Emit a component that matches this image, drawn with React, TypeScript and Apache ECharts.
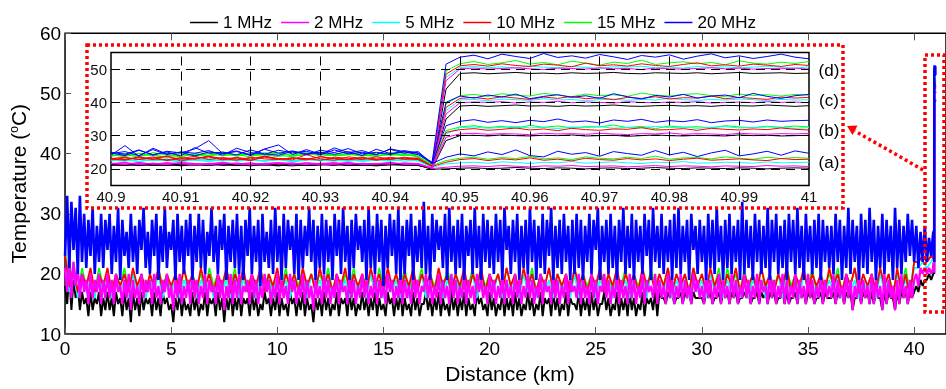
import React, { useEffect, useRef } from "react";
import * as echarts from "echarts";

// ---------- Legend / series names ----------
const names = ["1 MHz", "2 MHz", "5 MHz", "10 MHz", "15 MHz", "20 MHz"];
const colors: Record<string, string> = {
  "1 MHz": "#000000",
  "2 MHz": "#ff00ff",
  "5 MHz": "#00ffff",
  "10 MHz": "#ff0000",
  "15 MHz": "#00ff00",
  "20 MHz": "#0000ff",
};

// ---------- Main panel (0 - 40.9 km, step 0.1 km) ----------
const mainBlue = [
  23,33,21,32,24,31,20,33,22,30,21,29,23,31,20,28,22,30,21,29,
  24,30,20,28,22,31,19,29,23,27,21,30,22,28,20,29,24,31,21,27,
  20,29,23,30,19,28,22,31,21,27,24,29,19,30,22,28,20,29,23,30,
  19,28,22,30,21,29,20,27,23,31,22,28,20,29,24,30,19,28,22,29,
  21,30,20,28,19,29,23,31,20,28,22,29,18,30,22,27,21,29,20,31,
  22,28,19,30,21,29,24,28,20,30,19,29,21,28,23,31,22,29,19,28,
  21,30,20,29,22,28,19,30,23,29,20,31,22,28,19,29,21,30,24,28,
  22,29,19,31,21,28,20,30,22,29,18,28,21,30,23,29,20,31,19,28,
  20,29,23,30,19,28,22,29,21,32,20,28,19,30,22,29,24,28,21,30,
  19,31,22,28,20,29,21,30,19,28,23,29,20,31,21,28,19,30,22,29,
  21,28,20,30,22,29,19,31,24,28,20,29,22,30,19,28,21,29,20,31,
  22,29,19,28,21,30,20,29,23,31,19,28,21,29,20,30,22,28,19,29,
  20,30,21,29,19,28,22,30,20,29,24,31,19,28,22,29,20,30,21,28,
  19,29,22,31,20,28,21,30,19,29,22,28,20,30,23,29,19,31,22,28,
  21,30,20,28,22,29,19,30,21,31,20,28,22,29,19,30,24,28,20,29,
  22,28,19,30,21,29,20,31,22,28,19,29,21,30,20,28,22,29,19,32,
  20,29,21,28,19,30,22,29,20,28,21,31,19,29,22,30,20,28,21,29,
  19,30,22,29,20,31,21,28,19,30,22,28,20,29,21,30,19,29,22,28,
  21,28,20,30,22,29,19,28,21,31,20,29,22,28,19,30,21,29,20,31,
  22,29,19,28,21,30,20,29,22,28,19,31,21,29,20,28,22,30,23,29,
  22,28,21,27,22,28,22,26,23,27,
];
const mainMagenta = [
  21,17,23,16,22,18,21,16,20,17,19,15,20,16,19,17,20,15,19,16,
  20,16,19,15,20,17,18,15,19,16,20,14,19,16,18,15,20,16,19,17,
  19,15,20,16,18,15,19,17,20,16,18,14,19,16,20,15,18,16,19,15,
  20,16,19,15,18,16,20,15,19,17,18,15,20,16,19,14,18,16,20,15,
  19,16,20,15,18,17,19,15,20,16,19,15,18,16,20,17,19,15,18,16,
  20,15,19,16,18,15,20,17,19,15,18,16,20,15,19,16,18,14,19,16,
  18,15,20,16,19,15,18,16,20,15,19,17,18,15,20,16,19,15,18,16,
  20,16,19,15,18,16,20,15,19,16,18,15,20,17,19,15,18,16,20,15,
  19,16,18,15,20,16,19,15,18,17,20,16,19,15,18,16,20,15,19,16,
  18,15,20,16,19,15,18,16,20,15,19,16,18,15,20,17,19,16,18,15,
  20,16,19,15,18,16,20,15,19,16,18,15,20,16,19,15,18,16,20,16,
  19,15,18,16,20,15,19,17,18,15,20,16,19,15,18,16,20,15,19,17,
  18,16,20,15,19,16,18,15,20,16,19,15,18,17,20,16,19,15,18,16,
  20,15,19,16,18,15,20,16,19,15,18,16,20,15,19,17,18,16,20,15,
  19,16,18,15,20,16,19,15,18,16,20,15,19,16,18,15,20,17,19,16,
  18,15,20,16,19,15,18,16,20,15,19,16,18,15,20,16,19,15,18,16,
  20,16,19,15,18,16,20,15,19,17,18,15,20,16,19,15,18,16,20,15,
  19,15,18,16,20,15,19,16,18,15,20,16,19,15,18,16,20,15,19,16,
  18,16,20,15,19,16,18,15,20,16,19,14,18,16,20,15,19,16,18,15,
  20,15,19,16,18,14,20,15,19,16,18,14,19,15,20,16,18,15,19,16,
  19,20,18,21,20,21,20,21,20,21,
];
const mainBlack = [
  18,15,20,14,19,16,18,14,17,15,16,13,17,14,16,15,17,13,16,14,
  17,14,16,13,17,15,16,13,17,14,16,12,17,14,16,13,17,14,16,15,
  16,13,17,14,16,13,17,15,16,14,15,12,16,14,17,13,16,14,15,13,
  17,14,16,13,15,14,17,13,16,15,16,13,17,14,16,12,16,14,17,13,
  16,14,17,13,16,15,16,13,17,14,16,13,15,14,17,15,16,13,16,14,
  17,13,16,14,15,13,17,15,16,13,16,14,17,13,16,14,15,12,16,14,
  16,13,17,14,16,13,15,14,17,13,16,15,16,13,17,14,16,13,15,14,
  17,14,16,13,16,14,17,13,16,14,15,13,17,15,16,13,16,14,17,13,
  16,14,15,13,17,14,16,13,15,15,17,14,16,13,16,14,17,13,16,14,
  15,13,17,14,16,13,16,14,17,13,16,14,15,13,17,15,16,14,15,13,
  17,14,16,13,15,14,17,13,16,14,16,13,17,14,16,13,15,14,17,14,
  16,13,15,14,17,13,16,15,16,13,17,14,16,13,15,14,17,13,16,15,
  15,14,17,13,16,14,16,13,17,14,16,13,15,15,17,14,16,13,15,14,
  17,13,16,14,16,13,17,14,16,13,15,14,17,13,16,15,16,14,17,13,
  17,16,16,15,17,16,17,15,16,16,17,15,17,16,17,15,17,16,16,16,
  16,15,17,16,17,15,16,16,17,15,17,16,17,15,17,16,17,15,16,16,
  17,16,17,15,16,16,17,15,17,16,17,15,17,16,17,15,16,16,17,15,
  17,15,16,16,17,15,17,16,17,15,17,16,17,15,16,16,17,15,17,16,
  16,16,17,15,17,16,17,15,17,16,17,14,16,16,17,15,17,16,17,15,
  17,15,17,16,16,14,17,15,17,16,16,14,17,15,17,16,17,15,17,16,
  17,18,17,19,18,19,19,20,19,20,
];
// step 0.2 km
const mainRed = [
  23,18,21,17,20,18,21,17,20,18,21,17,20,18,20,17,21,18,20,17,
  20,18,21,17,20,18,20,17,21,18,20,17,21,18,20,17,20,18,21,17,
  20,18,21,17,20,18,21,17,20,18,21,17,20,18,20,17,21,18,20,17,
  21,18,20,17,20,18,21,17,20,18,20,17,21,18,20,17,21,18,20,17,
  20,18,21,17,20,18,20,17,21,18,20,17,20,18,21,17,20,18,21,17,
  20,18,20,17,21,18,20,17,21,18,20,17,20,18,21,17,20,18,20,17,
  21,18,20,17,20,18,21,17,20,18,21,17,20,18,20,17,21,18,20,17,
  20,18,21,17,20,18,20,17,21,18,20,17,21,18,20,17,20,18,21,17,
  20,18,20,17,21,18,20,17,20,18,21,17,20,18,21,17,20,18,20,17,
  21,18,20,17,20,18,21,17,20,18,20,17,21,18,20,16,21,17,20,16,
  22,22,23,22,23,
];
const mainGreen = [
  24,18,22,17,21,18,20,17,21,18,20,17,20,18,21,17,20,18,20,17,
  20,17,21,18,20,17,20,18,21,17,20,18,20,17,21,18,20,17,21,18,
  21,17,20,18,20,17,21,18,20,17,20,18,21,17,20,18,21,17,20,18,
  20,18,21,17,20,17,20,18,21,17,20,18,20,17,21,18,20,17,20,18,
  21,17,20,18,21,17,20,18,20,17,21,18,20,17,20,18,21,17,20,18,
  20,18,20,17,21,18,20,17,20,18,21,17,20,18,21,17,20,18,20,17,
  21,17,20,18,20,17,21,18,20,17,20,18,21,17,20,18,20,17,21,18,
  20,18,21,17,20,18,20,17,21,18,20,17,20,18,21,17,21,18,20,17,
  21,17,20,18,21,17,20,18,20,17,21,18,20,17,20,18,21,17,20,18,
  20,18,21,17,20,18,21,17,20,18,20,17,21,18,20,17,20,18,21,17,
  22,22,23,22,23,
];
const mainCyan = [
  21,17,20,16,20,17,19,16,20,17,19,16,20,17,19,16,20,17,19,16,
  19,17,20,16,19,17,20,16,19,17,20,16,19,17,19,16,20,17,19,16,
  20,16,19,17,20,16,19,17,19,16,20,17,19,16,20,17,19,16,20,17,
  19,17,20,16,19,17,19,16,20,17,19,16,20,17,19,16,20,17,19,16,
  20,16,19,17,20,16,20,17,19,16,19,17,20,16,19,17,20,16,19,17,
  19,17,20,16,19,17,19,16,20,17,20,16,19,17,19,16,20,17,19,16,
  20,16,19,17,20,16,19,17,19,16,20,17,19,16,20,17,19,16,20,17,
  19,17,20,16,19,17,20,16,19,17,19,16,20,17,20,16,19,17,19,16,
  20,16,19,17,19,16,20,17,20,16,19,17,19,16,20,17,19,16,20,17,
  19,17,20,16,20,17,19,16,19,17,20,16,20,17,19,16,20,17,19,16,
  21,21,22,21,22,
];

// ---------- Inset (40.900 - 41.000 km, step 0.002 km) ----------
// group (d)
const d1 = [21.2,21.0,21.4,21.1,21.5,20.9,21.3,21.1,21.6,21.0,21.3,21.2,20.9,21.4,21.1,21.3,21.0,21.5,21.2,20.9,21.3,21.1,21.2, 20.0, 44.0, 48.7,48.9,48.6,48.8,49.0,48.7,48.8,48.6,48.9,48.7,48.8,49.0,48.7,48.6,48.9,48.8,48.7,48.9,48.6,48.8,49.0,48.7,48.8,48.9,48.7,48.8];
const d2 = [21.6,21.3,21.8,21.4,21.9,21.5,21.2,21.7,21.4,21.8,21.3,21.6,21.9,21.4,21.7,21.2,21.6,21.8,21.3,21.5,21.9,21.4,21.6, 20.2, 46.5, 50.1,50.3,50.0,50.2,50.4,50.1,49.9,50.3,50.2,50.0,50.4,50.1,50.2,49.9,50.3,50.1,50.0,50.2,50.4,50.1,50.3,50.0,50.2,50.1,50.3,50.0];
const d5 = [22.4,22.8,22.1,23.0,22.5,22.2,22.9,22.6,23.3,22.3,22.7,22.4,22.9,22.1,22.6,23.1,22.4,22.8,22.2,22.7,22.5,23.0,22.3, 20.6, 47.5, 50.5,50.8,50.4,50.7,50.3,50.9,50.6,50.4,50.8,50.5,50.2,50.7,50.6,50.9,50.4,50.6,50.3,50.8,50.5,50.7,50.4,50.6,50.9,50.5,50.3,50.7];
const d10 = [23.0,22.6,23.5,22.8,23.9,22.4,23.2,23.7,22.9,23.4,22.5,23.8,23.1,22.7,24.3,23.0,22.6,23.6,23.2,22.8,23.5,22.9,23.3, 20.8, 48.5, 51.0,51.4,50.9,51.6,51.1,50.8,51.5,51.2,50.7,51.8,51.0,51.3,50.9,51.6,51.1,50.8,51.4,51.9,51.0,51.3,50.9,51.5,51.2,50.8,51.4,51.1];
const d15 = [23.8,24.4,23.5,24.9,24.1,23.6,24.7,24.0,25.2,23.9,24.5,24.2,23.7,24.8,24.3,25.0,23.9,24.6,24.1,23.8,24.9,24.4,23.6, 21.0, 49.5, 51.6,52.3,51.4,51.9,52.6,51.5,52.0,51.3,52.4,51.8,51.2,52.1,51.7,52.7,51.4,51.9,52.2,51.6,52.0,51.3,52.5,51.8,51.5,52.1,51.7,52.3];
const d20 = [24.1,27.0,23.8,26.2,24.5,25.0,23.9,25.1,24.6,25.4,24.0,26.0,27.2,24.3,25.8,24.4,26.3,24.9,25.5,24.2,26.0,25.2,24.7, 22.0, 51.5, 53.6,54.2,53.1,54.5,53.8,53.2,54.7,53.5,54.0,53.3,54.4,53.7,52.9,54.1,53.6,54.3,53.0,53.9,54.6,53.4,54.0,53.2,53.8,54.5,53.6,53.1];
// group (c)
const c1 = [21.3,21.1,21.5,21.0,21.2,21.4,21.1,21.6,21.0,21.3,21.2,21.5,21.1,20.9,21.3,21.2,21.4,21.0,21.3,21.1,21.5,21.2,21.0, 20.1, 35.0, 38.9,39.1,38.8,39.0,39.2,38.9,39.0,38.8,39.1,38.9,39.0,39.2,38.9,38.8,39.0,39.1,38.9,39.0,38.8,39.1,39.0,38.9,39.2,39.0,38.8,39.0];
const c2 = [21.5,21.8,21.3,21.7,21.4,21.9,21.6,21.2,21.7,21.5,21.8,21.3,21.6,21.4,21.9,21.5,21.3,21.7,21.6,21.4,21.8,21.5,21.3, 20.3, 36.5, 39.9,40.1,40.0,40.2,39.8,40.1,40.0,40.3,39.9,40.1,40.0,39.8,40.2,40.0,39.9,40.1,40.0,40.2,39.8,40.0,40.1,39.9,40.2,40.0,40.1,39.9];
const c5 = [22.6,22.3,22.9,22.5,22.8,22.2,22.7,23.1,22.4,22.9,22.6,22.3,22.8,22.5,23.0,22.4,22.7,22.2,22.9,22.6,22.4,22.8,22.5, 20.7, 37.5, 40.7,40.9,40.5,41.0,40.8,40.6,41.1,40.7,40.9,40.5,40.8,41.0,40.6,40.9,40.7,41.2,40.8,40.6,40.9,40.7,41.0,40.8,40.5,40.9,40.7,40.8];
const c10 = [22.7,23.3,22.9,23.6,22.5,23.1,23.8,22.8,23.4,23.0,22.6,23.5,22.9,23.2,22.7,23.7,23.1,22.8,23.4,22.6,23.3,23.0,22.8, 20.9, 38.5, 41.2,41.5,41.0,41.7,41.3,40.9,41.6,41.2,41.8,41.1,41.4,40.8,41.5,41.2,41.7,41.0,41.4,41.3,41.9,41.1,41.5,41.2,40.9,41.6,41.3,41.5];
const c15 = [24.2,23.7,24.6,24.0,23.5,24.8,24.1,23.8,24.5,24.3,23.6,24.9,24.0,23.7,24.4,24.7,23.9,24.2,24.6,23.8,24.3,24.0,24.5, 21.2, 39.5, 42.0,42.4,41.8,42.6,42.1,41.9,42.7,42.2,41.7,42.5,42.0,42.3,41.8,42.8,42.2,41.9,42.4,42.6,42.0,41.8,42.5,42.1,42.3,41.9,42.4,42.2];
const c20 = [24.8,24.0,25.6,24.3,25.1,23.9,26.4,24.7,25.0,24.2,25.7,24.5,24.1,25.3,24.6,25.0,24.4,25.2,24.0,25.9,24.6,25.1,24.3, 21.8, 40.0, 41.9,41.3,42.2,41.6,42.5,41.1,41.8,42.3,41.5,42.0,41.2,42.6,41.7,41.0,42.1,41.6,42.4,41.3,41.9,42.2,41.4,42.7,41.8,41.2,42.0,42.4];
// group (b)
const b1 = [21.1,21.3,21.0,21.4,21.2,21.0,21.5,21.1,21.3,21.2,20.9,21.4,21.1,21.3,21.0,21.2,21.5,21.1,21.0,21.3,21.2,21.4,21.1, 20.0, 28.5, 30.0,30.1,29.9,30.2,30.0,29.9,30.1,30.0,30.2,29.9,30.0,30.1,29.8,30.0,30.2,30.0,29.9,30.1,30.0,29.9,30.2,30.0,30.1,29.9,30.0,30.1];
const b2 = [21.7,21.4,21.9,21.5,21.3,21.8,21.6,21.4,21.9,21.5,21.2,21.7,21.6,21.8,21.4,21.6,21.9,21.3,21.7,21.5,21.4,21.8,21.6, 20.2, 29.5, 30.5,30.7,30.4,30.6,30.5,30.3,30.7,30.5,30.6,30.4,30.7,30.5,30.3,30.6,30.5,30.8,30.4,30.6,30.5,30.3,30.7,30.5,30.4,30.6,30.5,30.7];
const b5 = [22.5,22.9,22.3,22.7,22.4,23.0,22.6,22.2,22.8,22.5,22.9,22.4,22.7,22.3,22.8,22.6,23.1,22.4,22.7,22.5,22.9,22.3,22.6, 20.6, 30.5, 32.4,32.6,32.2,32.5,32.8,32.3,32.5,32.1,32.6,32.4,32.7,32.2,32.5,32.3,32.8,32.4,32.6,32.2,32.5,32.7,32.3,32.4,32.6,32.5,32.2,32.4];
const b10 = [23.2,22.8,23.6,23.0,22.7,23.4,22.9,23.8,23.1,22.6,23.5,23.0,22.8,23.3,22.9,23.6,23.1,22.7,23.4,23.0,22.8,23.5,23.1, 20.8, 31.0, 31.8,32.1,31.6,31.9,32.3,31.7,32.0,31.5,32.2,31.8,31.6,32.0,31.9,32.4,31.7,31.8,32.1,31.6,32.2,31.9,31.7,32.0,31.8,32.3,31.9,31.7];
const b15 = [24.0,24.6,23.9,24.3,24.8,23.7,24.4,24.1,24.7,23.8,24.5,24.2,24.9,23.9,24.3,24.6,24.0,24.4,23.8,24.7,24.1,24.5,23.9, 21.1, 31.5, 32.6,33.0,32.4,32.8,32.2,33.1,32.5,32.9,32.3,32.7,32.6,33.2,32.4,32.8,32.1,32.9,32.5,32.7,32.3,33.0,32.6,32.4,32.8,32.5,32.9,32.6];
const b20 = [25.0,24.4,25.7,24.1,25.3,24.8,26.0,28.5,24.6,25.2,24.3,25.9,24.7,25.4,24.2,25.6,24.9,26.1,24.5,25.0,24.3,25.5,24.8, 21.5, 33.0, 34.3,34.8,34.0,34.5,33.9,34.6,34.2,35.0,34.1,34.4,33.8,34.7,34.3,34.9,34.0,34.5,34.2,34.8,33.9,34.4,34.6,34.1,34.7,34.3,34.5,34.6];
// group (a)
const a1 = [21.2,21.4,21.1,21.3,21.0,21.5,21.2,21.1,21.4,21.0,21.3,21.1,21.5,21.2,21.0,21.3,21.4,21.1,21.2,21.0,21.3,21.2,21.1, 19.9, 20.0, 20.2,20.3,20.1,20.2,20.4,20.2,20.1,20.3,20.2,20.0,20.2,20.3,20.1,20.2,20.4,20.2,20.1,20.3,20.2,20.1,20.3,20.2,20.0,20.2,20.3,20.2];
const a2 = [21.6,21.9,21.4,21.7,21.5,21.8,21.3,21.6,21.9,21.4,21.7,21.5,21.8,21.6,21.3,21.7,21.5,21.9,21.4,21.6,21.8,21.5,21.4, 20.1, 20.5, 20.8,20.9,20.7,21.0,20.8,20.6,20.9,20.8,21.0,20.7,20.8,20.9,20.6,20.8,21.0,20.7,20.9,20.8,20.6,20.9,20.8,20.7,21.0,20.8,20.9,20.7];
const a5 = [22.7,22.4,22.9,22.5,23.1,22.3,22.8,22.6,22.4,22.9,22.7,22.5,23.0,22.4,22.8,22.6,22.3,22.9,22.5,22.7,22.4,22.8,22.6, 20.5, 21.5, 21.8,22.0,21.7,22.1,21.9,21.6,22.0,21.8,22.2,21.7,21.9,22.1,21.8,21.6,22.0,21.9,22.2,21.7,21.8,22.0,21.9,21.7,22.1,21.8,21.9,22.0];
const a10 = [23.1,23.5,22.8,23.3,23.7,22.9,23.2,23.6,22.7,23.4,23.0,23.8,22.9,23.3,23.1,22.6,23.5,23.2,22.8,23.6,23.0,23.3,22.9, 20.7, 22.0, 22.8,23.1,22.5,23.0,22.7,23.3,22.6,22.9,22.4,23.2,22.8,22.6,23.1,22.7,23.0,22.5,22.9,23.2,22.6,22.8,23.0,22.7,22.5,23.1,22.8,22.9];
const a15 = [24.3,23.8,24.7,24.1,23.6,24.5,24.0,24.8,23.9,24.4,24.2,23.7,24.6,24.1,24.9,23.8,24.3,24.6,24.0,23.9,24.5,24.2,23.8, 21.0, 22.5, 23.2,23.5,22.9,23.4,23.1,23.7,23.0,23.3,22.8,23.6,23.2,23.0,23.5,23.1,23.8,22.9,23.3,23.4,23.0,23.6,23.2,22.9,23.5,23.1,23.4,23.2];
const a20 = [24.6,25.2,24.0,25.8,24.3,25.1,24.7,25.5,24.1,26.2,24.9,24.4,25.6,24.8,25.3,24.2,25.7,24.5,25.0,24.3,25.9,24.7,25.2, 21.6, 23.5, 24.5,23.9,25.1,24.3,25.7,24.0,23.6,25.3,24.4,24.9,23.8,25.2,24.6,24.1,25.5,24.2,25.0,23.7,24.8,25.6,23.9,24.5,25.3,24.1,25.4,24.7];

// ---------- Axis ticks ----------
const mainXTicks = { min: 0, max: 41.5, interval: 5 };
const mainYTicks = { min: 10, max: 60, interval: 10 };
const insetXTicks = { min: 40.9, max: 41, interval: 0.01 };
const insetYTicks = { min: 15, max: 55, interval: 5 };
const insetGridY = [20, 30, 40, 50];
const insetGridX = [40.91, 40.92, 40.93, 40.94, 40.95, 40.96, 40.97, 40.98, 40.99];
const groupLabels = ["(d)", "(c)", "(b)", "(a)"];

const FONT = "Liberation Sans, Arial, sans-serif";

function mainPairs(vals: number[], step: number) {
  return vals.map((v, i) => [+(i * step).toFixed(2), v]);
}
function insetPairs(vals: number[]) {
  return vals.map((v, i) => [+(40.9 + i * 0.002).toFixed(3), v]);
}

export default function App() {
  const ref = useRef<HTMLDivElement>(null);
  useEffect(() => {
    document.body.style.margin = "0";
    if (!ref.current) return;
    const chart = echarts.init(ref.current, undefined, { renderer: "svg" });

    const drawOrder = ["1 MHz", "15 MHz", "5 MHz", "10 MHz", "2 MHz", "20 MHz"];
    const mainWidth: Record<string, number> = {
      "1 MHz": 2.0,
      "2 MHz": 2.3,
      "5 MHz": 1.6,
      "10 MHz": 1.8,
      "15 MHz": 1.6,
      "20 MHz": 2.6,
    };
    const mainData: Record<string, number[][]> = {
      "1 MHz": mainPairs(mainBlack, 0.1).concat(insetPairs(d1).slice(1)),
      "2 MHz": mainPairs(mainMagenta, 0.1).concat(insetPairs(d2).slice(1)),
      "5 MHz": mainPairs(mainCyan, 0.2).concat(insetPairs(d5).slice(1)),
      "10 MHz": mainPairs(mainRed, 0.2).concat(insetPairs(d10).slice(1)),
      "15 MHz": mainPairs(mainGreen, 0.2).concat(insetPairs(d15).slice(1)),
      "20 MHz": mainPairs(mainBlue, 0.1).concat(insetPairs(d20).slice(1)),
    };
    const insetGroups: Record<string, number[][]> = {
      "1 MHz": [a1, b1, c1, d1],
      "2 MHz": [a2, b2, c2, d2],
      "5 MHz": [a5, b5, c5, d5],
      "10 MHz": [a10, b10, c10, d10],
      "15 MHz": [a15, b15, c15, d15],
      "20 MHz": [a20, b20, c20, d20],
    };

    const series: any[] = [];
    drawOrder.forEach((n) => {
      series.push({
        name: n,
        type: "line",
        xAxisIndex: 0,
        yAxisIndex: 0,
        data: mainData[n],
        symbol: "none",
        silent: true,
        lineStyle: { width: mainWidth[n], color: colors[n] },
        itemStyle: { color: colors[n] },
      });
    });
    // inset grid lines
    series.push({
      name: "grid",
      type: "line",
      xAxisIndex: 2,
      yAxisIndex: 1,
      data: [],
      silent: true,
      markLine: {
        silent: true,
        symbol: ["none", "none"],
        label: { show: false },
        lineStyle: { color: "#000", width: 1, type: [9, 6] },
        data: [
          ...insetGridY.map((v) => ({ yAxis: v })),
          ...insetGridX.map((v) => ({ xAxis: v })),
        ],
      },
    });
    drawOrder.forEach((n) => {
      insetGroups[n].forEach((arr) => {
        series.push({
          name: n,
          type: "line",
          xAxisIndex: 2,
          yAxisIndex: 1,
          data: insetPairs(arr),
          symbol: "none",
          silent: true,
          lineStyle: { width: 1, color: colors[n] },
          itemStyle: { color: colors[n] },
        });
      });
    });

    const dotted = { fill: "none", stroke: "#ff0000", lineWidth: 3.5, lineDash: [3, 3] };

    chart.setOption({
      animation: false,
      textStyle: { fontFamily: FONT },
      legend: {
        data: names,
        top: 9,
        left: "center",
        icon: "rect",
        itemWidth: 28,
        itemHeight: 1.5,
        itemGap: 9,
        textStyle: { fontSize: 17, color: "#000", fontFamily: FONT },
      },
      grid: [
        {
          left: 63.3,
          top: 33.3,
          right: 0,
          bottom: 52.3,
          show: true,
          borderColor: "#000",
          borderWidth: 1.5,
          backgroundColor: "transparent",
        },
        {
          left: 111,
          top: 52.5,
          right: 137,
          bottom: 203.5,
          show: true,
          borderColor: "#000",
          borderWidth: 1.5,
          backgroundColor: "#fff",
        },
      ],
      xAxis: [
        {
          type: "value",
          gridIndex: 0,
          ...mainXTicks,
          axisLine: { show: false },
          axisTick: { inside: true, length: 7, lineStyle: { color: "#555" } },
          axisLabel: { fontSize: 19, color: "#000", margin: 5, showMaxLabel: false },
          splitLine: { show: false },
          name: "Distance (km)",
          nameLocation: "middle",
          nameGap: 28,
          nameTextStyle: { fontSize: 21, color: "#000", padding: [0, 0, 0, 9] },
        },
        {
          type: "value",
          gridIndex: 0,
          position: "top",
          ...mainXTicks,
          axisLine: { show: false },
          axisTick: { inside: true, length: 7, lineStyle: { color: "#555" } },
          axisLabel: { show: false },
          splitLine: { show: false },
        },
        {
          type: "value",
          gridIndex: 1,
          ...insetXTicks,
          axisLine: { show: false },
          axisTick: { show: false },
          axisLabel: {
            fontSize: 15,
            color: "#111",
            margin: 3,
            formatter: (v: number) => String(+v.toFixed(2)),
          },
          splitLine: { show: false },
        },
      ],
      yAxis: [
        {
          type: "value",
          gridIndex: 0,
          ...mainYTicks,
          axisLine: { show: false },
          axisTick: { show: true, inside: true, length: 6, lineStyle: { color: "#555" } },
          axisLabel: { fontSize: 19, color: "#000", margin: 4 },
          splitLine: { show: false },
          name: "Temperature ({sup|o}C)",
          nameLocation: "middle",
          nameRotate: 90,
          nameGap: 25,
          nameTextStyle: {
            fontSize: 21,
            color: "#000",
            rich: { sup: { fontSize: 12, verticalAlign: "top", color: "#000" } },
          },
        },
        {
          type: "value",
          gridIndex: 1,
          ...insetYTicks,
          axisLine: { show: false },
          axisTick: { show: false },
          axisLabel: {
            fontSize: 15,
            color: "#111",
            margin: 4,
            formatter: (v: number) => (v % 10 === 0 ? String(v) : ""),
          },
          splitLine: { show: false },
        },
      ],
      series,
      graphic: [
        { type: "rect", shape: { x: 87, y: 45, width: 756, height: 163 }, style: dotted, z: 100 },
        { type: "rect", shape: { x: 925, y: 55, width: 19, height: 257 }, style: dotted, z: 100 },
        {
          type: "line",
          shape: { x1: 923, y1: 170, x2: 855, y2: 131 },
          style: { stroke: "#ff0000", lineWidth: 3.5, lineDash: [3, 3] },
          z: 100,
        },
        {
          type: "polygon",
          shape: { points: [[847, 126], [857.5, 125.5], [852.5, 135]] },
          style: { fill: "#ff0000" },
          z: 100,
        },
        ...groupLabels.map((t, i) => ({
          type: "text",
          x: 829,
          y: [70, 100, 130, 162][i],
          style: {
            text: t,
            fontSize: 17,
            fontFamily: FONT,
            fill: "#000",
            align: "center",
            verticalAlign: "middle",
          },
          z: 100,
        })),
      ],
    });
    return () => chart.dispose();
  }, []);
  return (
    <div
      ref={ref}
      style={{ position: "fixed", left: 0, top: 0, width: 946, height: 389, overflow: "hidden" }}
    />
  );
}
